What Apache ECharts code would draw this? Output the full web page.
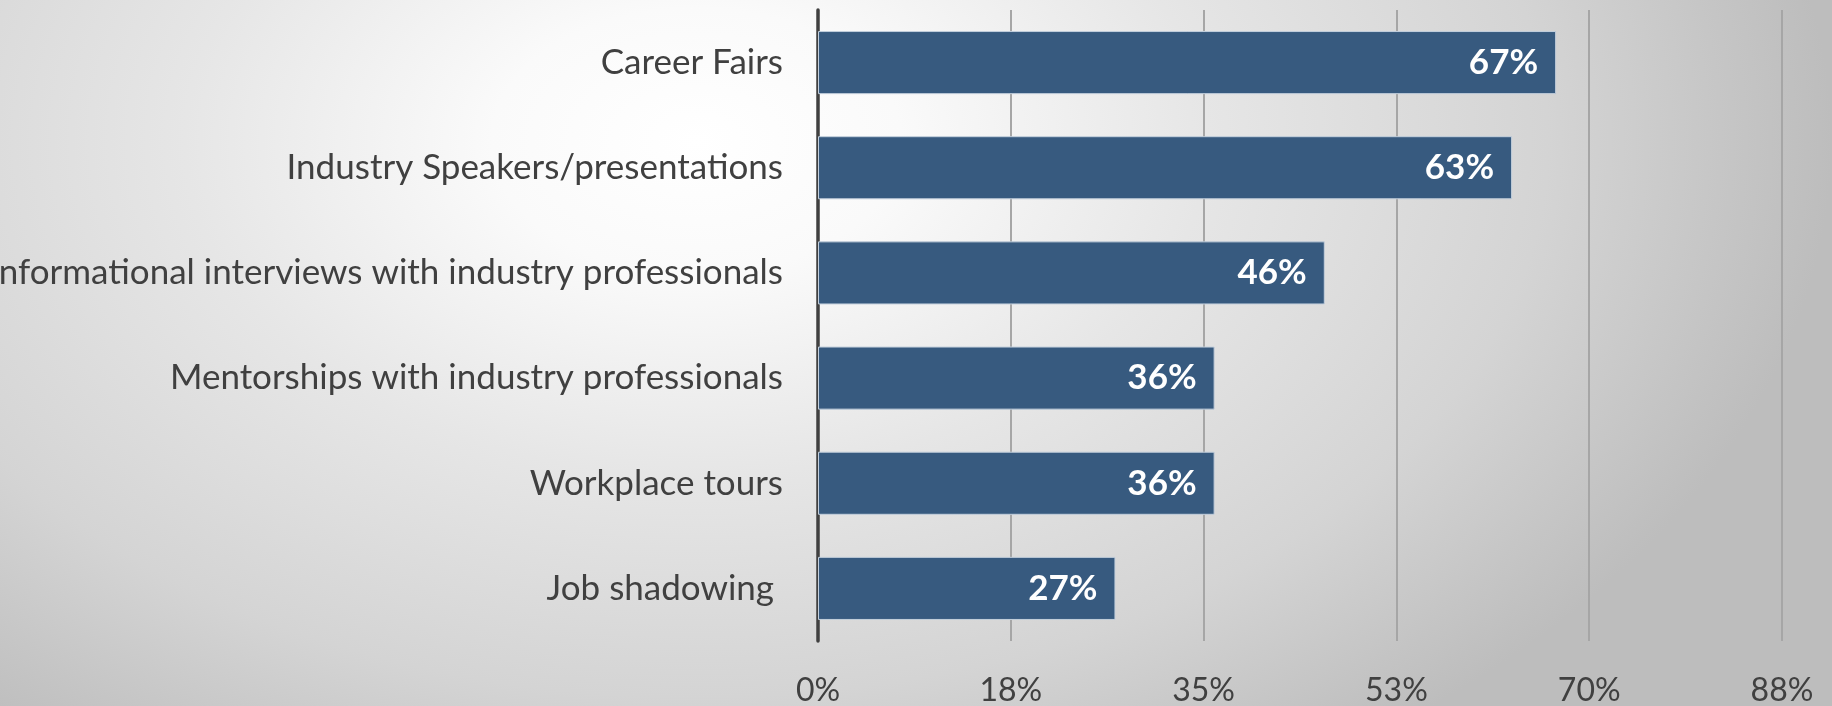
<!DOCTYPE html>
<html>
<head>
<meta charset="utf-8">
<script src="https://cdn.jsdelivr.net/npm/echarts@6/dist/echarts.min.js"></script>
<style>
  html, body { margin: 0; padding: 0; }
  #chart {
    width: 1832px; height: 706px;
    background: radial-gradient(ellipse 62% 105% at 38% 20%, #ffffff 0%, #fafafa 18%, #e6e6e6 45%, #d4d4d4 75%, #bdbdbd 100%);
  }
</style>
</head>
<body>
<div id="chart"></div>
<script>
const categories = [
  "Career Fairs",
  "Industry Speakers/presentations",
  "Informational interviews with industry professionals",
  "Mentorships with industry professionals",
  "Workplace tours",
  "Job shadowing "
];
const values = [67, 63, 46, 36, 36, 27];
const axisMin = 0;
const axisMax = 87.5;
const axisInterval = 17.5;

const chart = echarts.init(document.getElementById('chart'));
const FONT = 'Lato';
chart.setOption({
  backgroundColor: 'transparent',
  animation: false,
  grid: { left: 818, right: 50, top: 10, bottom: 65, containLabel: false, outerBoundsMode: 'none' },
  xAxis: {
    type: 'value',
    min: axisMin, max: axisMax, interval: axisInterval,
    axisLine: { show: false },
    axisTick: { show: false },
    splitLine: { show: true, lineStyle: { color: '#a6a6a6', width: 2 } },
    axisLabel: {
      color: '#404040', fontFamily: FONT, fontSize: 32, margin: 34,
      formatter: v => Math.round(v) + '%'
    }
  },
  yAxis: {
    type: 'category',
    data: categories,
    inverse: true,
    axisLine: { show: true, lineStyle: { color: '#404040', width: 3.5 } },
    axisTick: { show: false },
    axisLabel: { color: '#404040', fontFamily: FONT, fontSize: 35, margin: 35 }
  },
  series: [{
    type: 'bar',
    data: values,
    barCategoryGap: '40%',
    itemStyle: { color: '#375a7f', borderColor: '#c3cfdc', borderWidth: 1 },
    label: {
      show: true, position: 'insideRight', distance: 18,
      color: '#ffffff', fontFamily: FONT, fontWeight: 'bold', fontSize: 35,
      formatter: p => p.value + '%'
    }
  }]
});
</script>
</body>
</html>
